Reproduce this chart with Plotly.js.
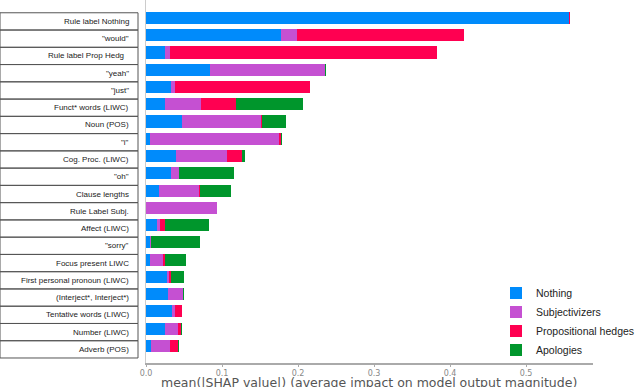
<!DOCTYPE html>
<html>
<head>
<meta charset="utf-8">
<script src="https://cdn.plot.ly/plotly-3.0.1.min.js"></script>
<style>
  body { margin: 0; background: #fff; }
  #plot { width: 640px; height: 387px; }
</style>
</head>
<body>
<div id="plot"></div>
<script>
// features, top to bottom
let features = ['Rule label Nothing', '"would"', 'Rule label Prop Hedg\u00a0\u00a0', '"yeah"', '"just"',
  'Funct* words (LIWC)', 'Noun (POS)', '"i"', 'Cog. Proc. (LIWC)', '"oh"', 'Clause lengths',
  'Rule Label Subj.', 'Affect (LIWC)', '"sorry"', 'Focus present LIWC', 'First personal pronoun (LIWC)',
  '(Interject*, Interject*)', 'Tentative words (LIWC)', 'Number (LIWC)', 'Adverb (POS)'];

// mean |SHAP| per class
let nothing        = [0.556, 0.178, 0.025, 0.084, 0.033, 0.025, 0.047, 0.0055, 0.039, 0.0327, 0.017, 0.000, 0.015, 0.005, 0.005, 0.028, 0.0287, 0.0336, 0.025, 0.007];
let subjectivizers = [0.000, 0.021, 0.006, 0.152, 0.005, 0.047, 0.104, 0.169, 0.067, 0.0105, 0.0525, 0.093, 0.003, 0.002, 0.017, 0.002, 0.0197, 0.005, 0.017, 0.025];
let propHedges     = [0.002, 0.219, 0.352, 0.000, 0.178, 0.047, 0.002, 0.003, 0.0205, 0.000, 0.0015, 0.000, 0.007, 0.000, 0.003, 0.0027, 0.000, 0.009, 0.004, 0.010];
let apologies      = [0.000, 0.000, 0.000, 0.001, 0.000, 0.088, 0.031, 0.002, 0.004, 0.072, 0.041, 0.000, 0.0576, 0.064, 0.027, 0.017, 0.0013, 0.000, 0.001, 0.001];

let classNames = ['Nothing', 'Subjectivizers', 'Propositional hedges', 'Apologies'];
let classColors = ['#008bfb', '#c550d2', '#ff0051', '#00962c'];
let series = [nothing, subjectivizers, propHedges, apologies];

let rows = features.map((f, i) => i);

let data = [];
for (let k = 0; k < series.length; k++) {
  data.push({
    type: 'bar', orientation: 'h',
    x: series[k], y: rows,
    name: classNames[k],
    width: 0.7,
    marker: {color: classColors[k], line: {width: 0}},
    hoverinfo: 'x+name'
  });
}

// paper runs from x=146px to 640px; the x axis only uses the first 447px of it
const PW = 494;

// boxes + labels on the left
let shapes = [];
let annotations = [];
for (let i = 0; i < features.length; i++) {
  shapes.push({
    type: 'rect', xref: 'paper', yref: 'y',
    x0: -146 / PW, x1: -8 / PW, y0: i - 0.3, y1: i + 0.7,
    line: {color: '#555', width: 1}, fillcolor: 'rgba(0,0,0,0)', layer: 'below'
  });
  annotations.push({
    xref: 'paper', yref: 'y', x: -15 / PW, y: i + 0.2,
    xanchor: 'right', yanchor: 'middle', showarrow: false,
    text: features[i],
    font: {family: 'Liberation Sans, Arial, sans-serif', size: 8, color: '#222'}
  });
}
annotations.push({
  xref: 'paper', yref: 'paper', x: (368.5 - 146) / PW, y: 0, yshift: -19,
  xanchor: 'center', yanchor: 'middle', showarrow: false, borderpad: 0,
  text: 'mean(|SHAP value|) (average impact on model output magnitude)',
  font: {family: 'DejaVu Sans, sans-serif', size: 12.5, color: '#555'}
});

let layout = {
  width: 640, height: 387,
  margin: {l: 146, r: 0, t: 0, b: 24, pad: 0},
  barmode: 'stack',
  bargap: 0,
  paper_bgcolor: '#fff', plot_bgcolor: '#fff',
  showlegend: true,
  legend: {
    x: 1, y: -0.004, xanchor: 'right', yanchor: 'bottom',
    traceorder: 'normal', bgcolor: 'rgba(255,255,255,0)',
    font: {family: 'Liberation Sans, Arial, sans-serif', size: 10.5, color: '#222'}
  },
  xaxis: {
    domain: [0, 447 / PW],
    range: [0, 0.588], showgrid: false, zeroline: false,
    showline: true, linecolor: '#aaa', linewidth: 1.5,
    ticks: 'outside', ticklen: 2, tickcolor: '#aaa',
    tickvals: [0, 0.1, 0.2, 0.3, 0.4, 0.5], ticktext: ['0.0', '0.1', '0.2', '0.3', '0.4', '0.5'],
    tickfont: {family: 'DejaVu Sans, sans-serif', size: 8, color: '#888'},
    fixedrange: true
  },
  yaxis: {
    range: [19.99, -1.04], showgrid: false, zeroline: false,
    showline: true, linecolor: '#ccc', linewidth: 1,
    showticklabels: false, ticks: '',
    fixedrange: true
  },
  shapes: shapes,
  annotations: annotations
};

Plotly.newPlot('plot', data, layout, {displayModeBar: false, staticPlot: true});
</script>
</body>
</html>
